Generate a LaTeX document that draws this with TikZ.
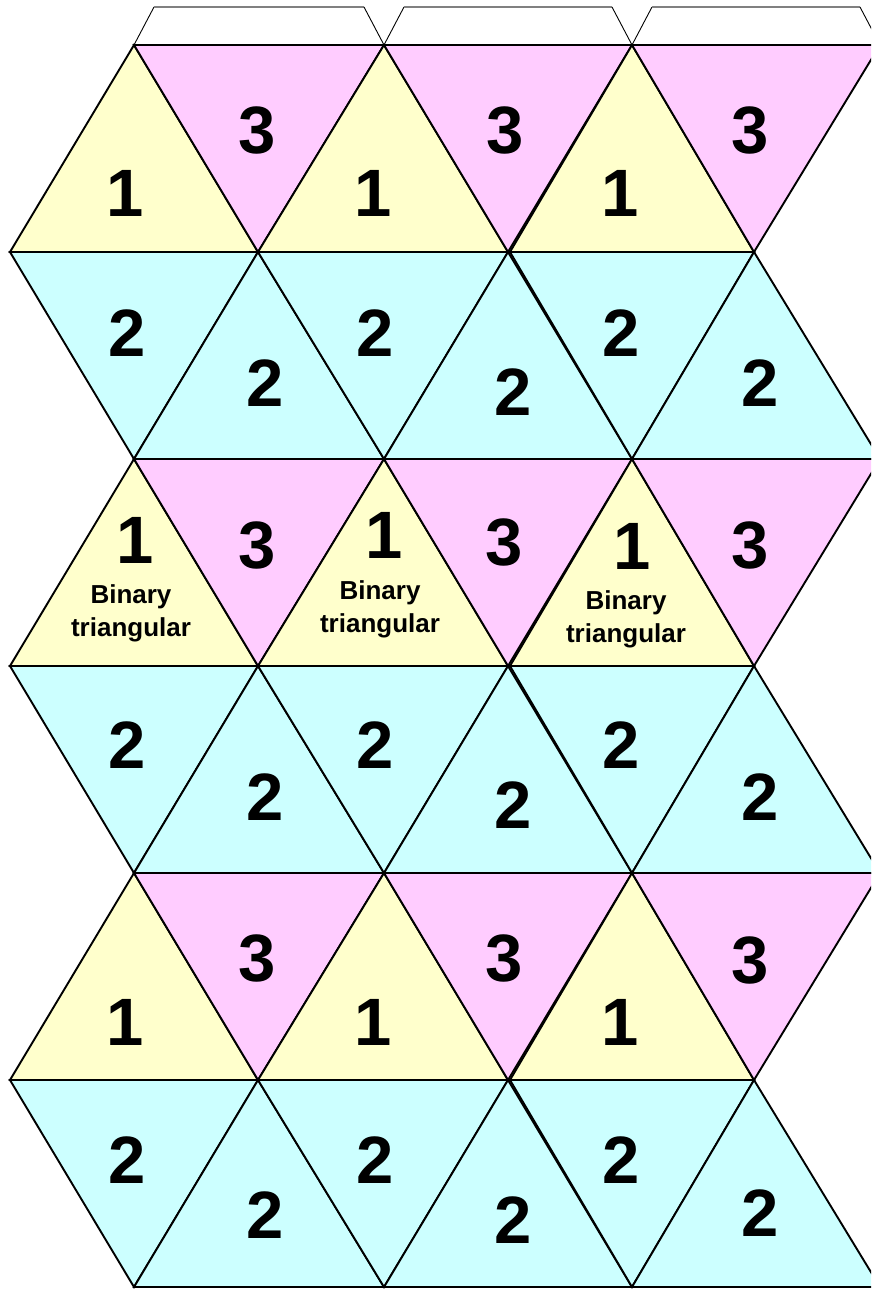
\documentclass[tikz,border=0pt]{standalone}
\usepackage{fontspec}
\setmainfont{Liberation Sans}
\definecolor{cyel}{HTML}{FFFFCC}
\definecolor{cpink}{HTML}{FFCCFF}
\definecolor{ccyan}{HTML}{CCFFFF}
\definecolor{tabgray}{HTML}{808080}
\begin{document}
\begin{tikzpicture}[x=1pt,y=-1pt,
  tri/.style={draw=black,line width=1.9pt,line join=miter},
  yeltri/.style={tri,fill=cyel},
  pinktri/.style={tri,fill=cpink},
  cyantri/.style={tri,fill=ccyan},
  tabside/.style={draw=black,line width=0.9pt},
  tabtop/.style={draw=tabgray,line width=1.2pt},
  num/.style={font=\bfseries\fontsize{67}{67}\selectfont,inner sep=0pt},
  lbl/.style={font=\bfseries\fontsize{26}{33}\selectfont,align=center,inner sep=0pt}]
\useasboundingbox (0,0) rectangle (871,1289);
\clip (0,0) rectangle (871,1289);
% tabs
\foreach \p/\q in {134/384, 384/632, 632/880}{
  \draw[tabside] (\p,45) -- (\p+20,7);
  \draw[tabtop] (\p+20,7) -- (\q-20,7);
  \draw[tabside] (\q-20,7) -- (\q,45);
}
% triangles
\foreach \r in {0,2,4}{
  \pgfmathsetmacro\t{45+207*\r}
  \pgfmathsetmacro\u{\t+207}
  \foreach \a/\b/\c/\d in {10/134/258/384, 258/384/508/632, 510/632/754/880}{
    \path[yeltri] (\b,\t) -- (\a,\u) -- (\c,\u) -- cycle;
    \path[pinktri] (\b,\t) -- (\d,\t) -- (\c,\u) -- cycle;
  }
}
\foreach \r in {1,3,5}{
  \pgfmathsetmacro\t{45+207*\r}
  \pgfmathsetmacro\u{\t+207}
  \foreach \a/\b/\c/\d in {10/134/258/384, 258/384/508/632, 510/632/754/880}{
    \path[cyantri] (\a,\t) -- (\c,\t) -- (\b,\u) -- cycle;
    \path[cyantri] (\c,\t) -- (\d,\u) -- (\b,\u) -- cycle;
  }
}
% row 1
\node[num] (y11) at (125,193) {1};
\node[num] (y12) at (373,193) {1};
\node[num] (y13) at (620,193) {1};
\node[num] (p11) at (257,130) {3};
\node[num] (p12) at (505,130) {3};
\node[num] (p13) at (750,130) {3};
% row 2
\node[num] (d21) at (127,333) {2};
\node[num] (d22) at (375,333) {2};
\node[num] (d23) at (621,333) {2};
\node[num] (u21) at (265,383) {2};
\node[num] (u22) at (513,392) {2};
\node[num] (u23) at (760,383) {2};
% row 3
\node[num] (y31) at (135,540) {1};
\node[num] (y32) at (384,535) {1};
\node[num] (y33) at (632,546) {1};
\node[lbl] (b31) at (131,613) {Binary\\triangular};
\node[lbl] (b32) at (380,609) {Binary\\triangular};
\node[lbl] (b33) at (626,619) {Binary\\triangular};
\node[num] (p31) at (257,545) {3};
\node[num] (p32) at (504,542) {3};
\node[num] (p33) at (750,545) {3};
% row 4
\node[num] (d41) at (127,745) {2};
\node[num] (d42) at (375,745) {2};
\node[num] (d43) at (621,745) {2};
\node[num] (u41) at (265,797) {2};
\node[num] (u42) at (513,805) {2};
\node[num] (u43) at (760,797) {2};
% row 5
\node[num] (p51) at (257,958) {3};
\node[num] (p52) at (504,958) {3};
\node[num] (p53) at (750,960) {3};
\node[num] (y51) at (125,1022) {1};
\node[num] (y52) at (373,1022) {1};
\node[num] (y53) at (620,1022) {1};
% row 6
\node[num] (d61) at (127,1160) {2};
\node[num] (d62) at (375,1160) {2};
\node[num] (d63) at (621,1160) {2};
\node[num] (u61) at (265,1215) {2};
\node[num] (u62) at (513,1220) {2};
\node[num] (u63) at (760,1213) {2};
\end{tikzpicture}
\end{document}
